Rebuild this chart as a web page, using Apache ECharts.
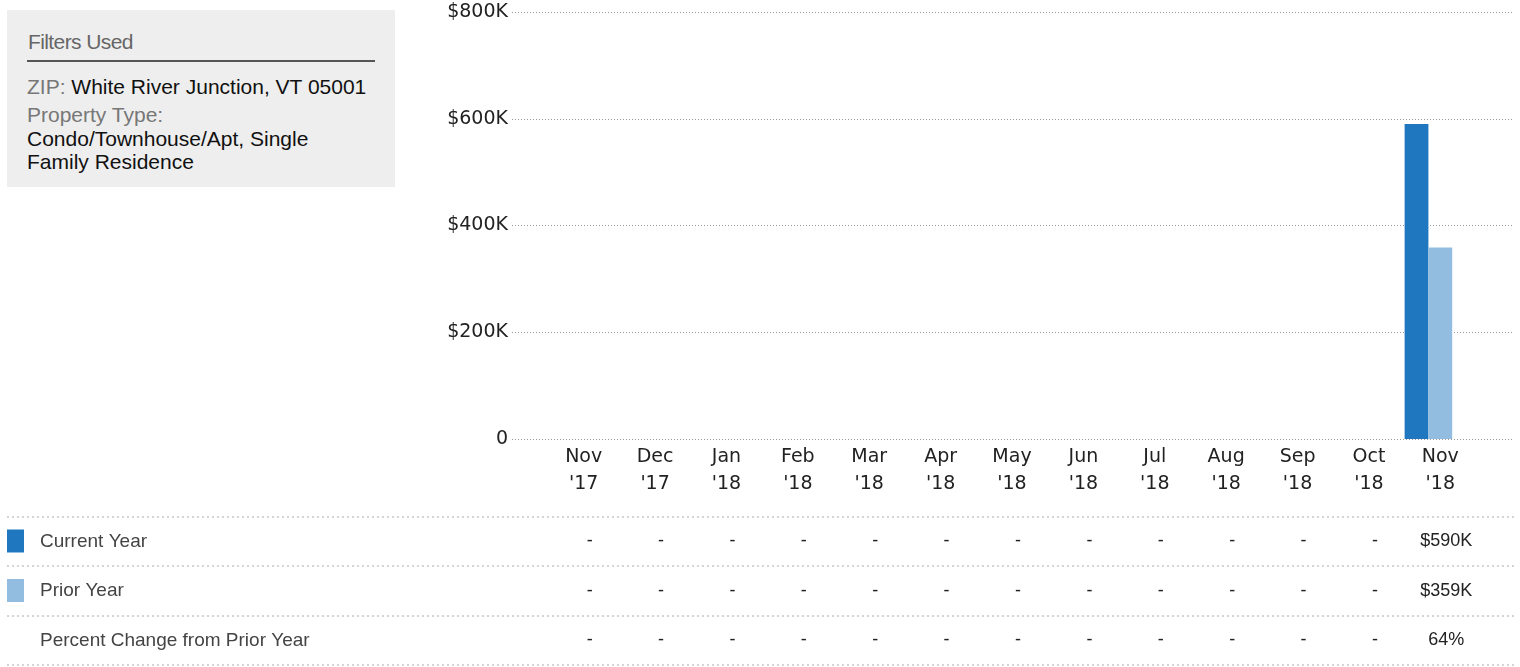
<!DOCTYPE html>
<html>
<head>
<meta charset="utf-8">
<script src="https://cdn.jsdelivr.net/npm/echarts@6/dist/echarts.min.js"></script>
<style>
  html, body { margin: 0; padding: 0; background: #fff; }
  #chart { position: absolute; left: 0; top: 0; width: 1520px; height: 667px; }
  .filters {
    position: absolute; left: 7px; top: 10px; width: 388px; height: 177px;
    background: #eeeeee; font-family: "Liberation Sans", Arial, sans-serif;
    font-size: 21px; letter-spacing: 0; color: #111;
  }
  .filters div { position: absolute; left: 20px; white-space: nowrap; line-height: 24px; }
  .filters .title { left: 21px; top: 20px; color: #666; letter-spacing: -0.6px; }
  .filters .rule { top: 50px; width: 348px; height: 2px; background: #555; }
  .filters .lbl { color: #777; }
</style>
</head>
<body>
<div id="chart"></div>
<div class="filters">
  <div class="title">Filters Used</div>
  <div class="rule"></div>
  <div style="top:65px"><span class="lbl">ZIP:</span> White River Junction, VT 05001</div>
  <div class="lbl" style="top:93px">Property Type:</div>
  <div style="top:117px">Condo/Townhouse/Apt, Single</div>
  <div style="top:140px">Family Residence</div>
</div>
<script>
var months = ['Nov', 'Dec', 'Jan', 'Feb', 'Mar', 'Apr', 'May', 'Jun', 'Jul', 'Aug', 'Sep', 'Oct', 'Nov'];
var years = ["'17", "'17", "'18", "'18", "'18", "'18", "'18", "'18", "'18", "'18", "'18", "'18", "'18"];
var currentYear = [null, null, null, null, null, null, null, null, null, null, null, null, 590000];
var priorYear = [null, null, null, null, null, null, null, null, null, null, null, null, 359000];
var percentChange = [null, null, null, null, null, null, null, null, null, null, null, null, 64];
var yTicks = [0, 200000, 400000, 600000, 800000];

var categories = months.map(function (m, i) { return m + '\n' + years[i]; });
var blue = '#1f78bf', light = '#93bde0';

function money(v) {
  return v == null ? '-' : '$' + Math.round(v / 1000) + 'K';
}

var ec = echarts.init(document.getElementById('chart'));
var option = {
  animation: false,
  grid: [
    { left: 512, right: 8, top: 12, height: 427 },
    { left: 548, width: 928, top: 12, height: 427 }
  ],
  xAxis: [
    { gridIndex: 0, type: 'value', show: false },
    {
      gridIndex: 1, type: 'category', data: categories,
      axisLine: { show: false }, axisTick: { show: false },
      axisLabel: {
        margin: 5, color: '#222', fontFamily: 'DejaVu Sans', fontSize: 19, lineHeight: 27
      }
    }
  ],
  yAxis: [
    {
      gridIndex: 0, type: 'value', min: 0, max: yTicks[yTicks.length - 1], interval: yTicks[1],
      axisLine: { show: false }, axisTick: { show: false },
      axisLabel: {
        margin: 4, color: '#222', fontFamily: 'DejaVu Sans', fontSize: 19,
        formatter: function (v) { return v === 0 ? '0' : money(v); }
      },
      splitLine: { lineStyle: { color: '#999', type: [1, 2], width: 1 } }
    },
    {
      gridIndex: 1, type: 'value', min: 0, max: yTicks[yTicks.length - 1], interval: yTicks[1],
      show: false
    }
  ],
  series: [
    { name: 'Current Year', type: 'bar', xAxisIndex: 1, yAxisIndex: 1, data: currentYear,
      itemStyle: { color: blue }, barCategoryGap: '0%', barGap: '0%' },
    { name: 'Prior Year', type: 'bar', xAxisIndex: 1, yAxisIndex: 1, data: priorYear,
      itemStyle: { color: light }, barGap: '0%' },
    // empty slot: the third row of the table has no bar but still takes its share of the band
    { name: 'Percent Change from Prior Year', type: 'bar', xAxisIndex: 1, yAxisIndex: 1,
      data: percentChange.map(function () { return null; }), barGap: '0%' }
  ]
};
ec.setOption(option);

// table below the chart
var rows = [
  { name: 'Current Year', color: blue, vals: currentYear.map(money) },
  { name: 'Prior Year', color: light, vals: priorYear.map(money) },
  { name: 'Percent Change from Prior Year', color: null,
    vals: percentChange.map(function (v) { return v == null ? '-' : v + '%'; }) }
];
var lineYs = [517, 566, 616, 665];
var textStyle = { fontFamily: 'Liberation Sans', fontSize: 19 };
var graphics = [];
lineYs.forEach(function (y) {
  graphics.push({ type: 'line', silent: true,
    shape: { x1: 7, y1: y, x2: 1515, y2: y },
    style: { stroke: '#aaa', lineWidth: 1, lineDash: [2, 3] } });
});
rows.forEach(function (r, ri) {
  var cy = (lineYs[ri] + lineYs[ri + 1]) / 2;
  if (r.color) {
    graphics.push({ type: 'rect', silent: true,
      shape: { x: 7, y: cy - 12, width: 17, height: 23 }, style: { fill: r.color } });
  }
  graphics.push({ type: 'text', silent: true, x: 40, y: cy,
    style: Object.assign({ text: r.name, verticalAlign: 'middle', fill: '#444' }, textStyle) });
  r.vals.forEach(function (v, i) {
    var px = ec.convertToPixel({ xAxisIndex: 1 }, i) + 6;
    graphics.push({ type: 'text', silent: true, x: px, y: cy,
      style: Object.assign({ text: v, align: 'center', verticalAlign: 'middle', fill: '#222' }, textStyle, { fontSize: 18 }) });
  });
});
ec.setOption({ graphic: graphics });
</script>
</body>
</html>
